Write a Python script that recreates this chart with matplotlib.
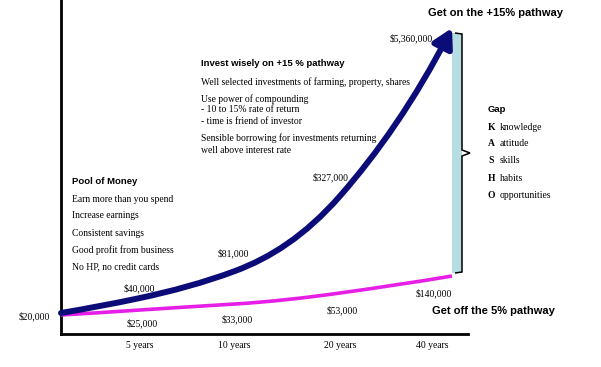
import matplotlib
matplotlib.use("Agg")
import matplotlib.pyplot as plt
from matplotlib.path import Path
from matplotlib.patches import FancyArrowPatch, PathPatch, Rectangle

# data
years = [0, 5, 10, 20, 40]
tick_labels = ["5 years", "10 years", "20 years", "40 years"]
growth_15 = ["$20,000", "$40,000", "$81,000", "$327,000", "$5,360,000"]
growth_5 = ["$20,000", "$25,000", "$33,000", "$53,000", "$140,000"]
# schematic heights of the two curves (chart is not to scale)
level_15 = [21, 36, 63, 138, 306]
level_5 = [19, 24, 30, 41, 58]

pool_title = "Pool of Money"
pool_items = ["Earn more than you spend", "Increase earnings", "Consistent savings",
              "Good profit from business", "No HP, no credit cards"]
invest_title = "Invest wisely on +15 % pathway"
invest_lines = ["Well selected investments of farming, property, shares",
                "Use power of compounding", "- 10 to 15% rate of return",
                "- time is friend of investor",
                "Sensible borrowing for investments returning", "well above interest rate"]
gap_letters = ["K", "A", "S", "H", "O"]
gap_words = ["knowledge", "attitude", "skills", "habits", "opportunities"]

W, H = 601, 367
NAVY = "#0c0c78"
PINK = "#e61ee6"
SANS = "Liberation Sans"
SERIF = "Liberation Serif"
FS = 6.9

# layout: stage positions along the x axis
stage_x = [61, 140, 235, 340, 452]
tick_x = [140, 234, 340, 432]

fig = plt.figure(figsize=(W / 100, H / 100), dpi=100)
ax = fig.add_axes([61 / W, 33 / H, (468 - 61) / W, 334 / H])
ax.set_xlim(61, 468)
ax.set_ylim(0, 334)
for s in ["top", "right"]:
    ax.spines[s].set_visible(False)
ax.spines["left"].set_linewidth(2)
ax.spines["bottom"].set_linewidth(2)
ax.set_yticks([])
ax.set_xticks(tick_x)
ax.set_xticklabels(tick_labels, fontfamily=SERIF, fontsize=FS)
ax.tick_params(axis="x", length=0, pad=5)


def smooth_path(xs, ys):
    # cubic bezier through the points; tangents kept inside the range
    # that keeps each piece convex, so the curve does not wobble
    n = len(xs)
    h = [xs[i + 1] - xs[i] for i in range(n - 1)]
    d = [(ys[i + 1] - ys[i]) / h[i] for i in range(n - 1)]
    m = [0.9 * d[0]]
    for i in range(n - 1):
        lo = (3 * d[i] - m[i]) / 2
        hi = 3 * d[i] - 2 * m[i]
        if i + 1 < n - 1:
            hi = min(hi, d[i + 1])
        a, b = min(lo, hi), max(lo, hi)
        m.append((a + b) / 2)
    verts = [(xs[0], ys[0])]
    codes = [Path.MOVETO]
    for i in range(n - 1):
        verts += [(xs[i] + h[i] / 3, ys[i] + m[i] * h[i] / 3),
                  (xs[i + 1] - h[i] / 3, ys[i + 1] - m[i + 1] * h[i] / 3),
                  (xs[i + 1], ys[i + 1])]
        codes += [Path.CURVE4] * 3
    return Path(verts, codes)


# gap bar between the two pathways
top, bot = level_15[-1] - 5, level_5[-1] + 3
ax.add_patch(Rectangle((452, bot), 10, top - bot,
                       facecolor="#b5dde2", edgecolor="none", clip_on=False, zorder=1))
mid = (top + bot) / 2
brace = Path([(455, top), (462, top - 1), (462, mid + 3), (470, mid), (462, mid - 3),
              (462, bot + 1), (455, bot)])
ax.add_patch(PathPatch(brace, fill=False, edgecolor="black", lw=1.1, clip_on=False, zorder=2))

# 5% pathway
ax.add_patch(PathPatch(smooth_path(stage_x, level_5), fill=False, edgecolor=PINK,
                       lw=2.6, clip_on=False, zorder=3, capstyle="butt"))
# 15% pathway with arrow
arrow = FancyArrowPatch(path=smooth_path(stage_x, level_15),
                        arrowstyle="-|>,head_length=0.8,head_width=0.45",
                        mutation_scale=14, lw=4.3, color=NAVY, clip_on=False, zorder=4)
ax.add_patch(arrow)


def ptext(x, y, s, **kw):
    fig.text(x / W, 1 - y / H, s, **kw)


# value labels
ptext(34, 316, growth_15[0], family=SERIF, fontsize=FS, ha="center", va="center")
lab15 = [(139, 288), (233, 253), (331, 177), (411, 38)]
for (x, y), s in zip(lab15, growth_15[1:]):
    ptext(x, y, s, family=SERIF, fontsize=FS, ha="center", va="center")
lab5 = [(142, 323), (237, 319), (342, 310), (434, 293)]
for (x, y), s in zip(lab5, growth_5[1:]):
    ptext(x, y, s, family=SERIF, fontsize=FS, ha="center", va="center")

ptext(428, 13, "Get on the +15% pathway", family=SANS, weight="bold", fontsize=8, va="center")
ptext(432, 311, "Get off the 5% pathway", family=SANS, weight="bold", fontsize=8, va="center")

# pool of money block
ptext(72, 182, pool_title, family=SANS, weight="bold", fontsize=6.8, va="center")
for i, s in enumerate(pool_items):
    ptext(72, 199 + 17 * i, s, family=SERIF, fontsize=FS, va="center")

# invest block
ptext(201, 64, invest_title, family=SANS, weight="bold", fontsize=6.8, va="center")
line_y = [82, 99, 110, 121, 138, 150]
for y, s in zip(line_y, invest_lines):
    ptext(201, y, s, family=SERIF, fontsize=FS, va="center")

# gap block
ptext(488, 110, "Gap", family=SANS, weight="bold", fontsize=6.8, va="center")
for i, (l, w) in enumerate(zip(gap_letters, gap_words)):
    ptext(488, 127 + 17 * i, l, family=SERIF, weight="bold", fontsize=FS, va="center")
    ptext(500, 127 + 17 * i, w, family=SERIF, fontsize=FS, va="center")

fig.savefig("out.png", dpi=100)
